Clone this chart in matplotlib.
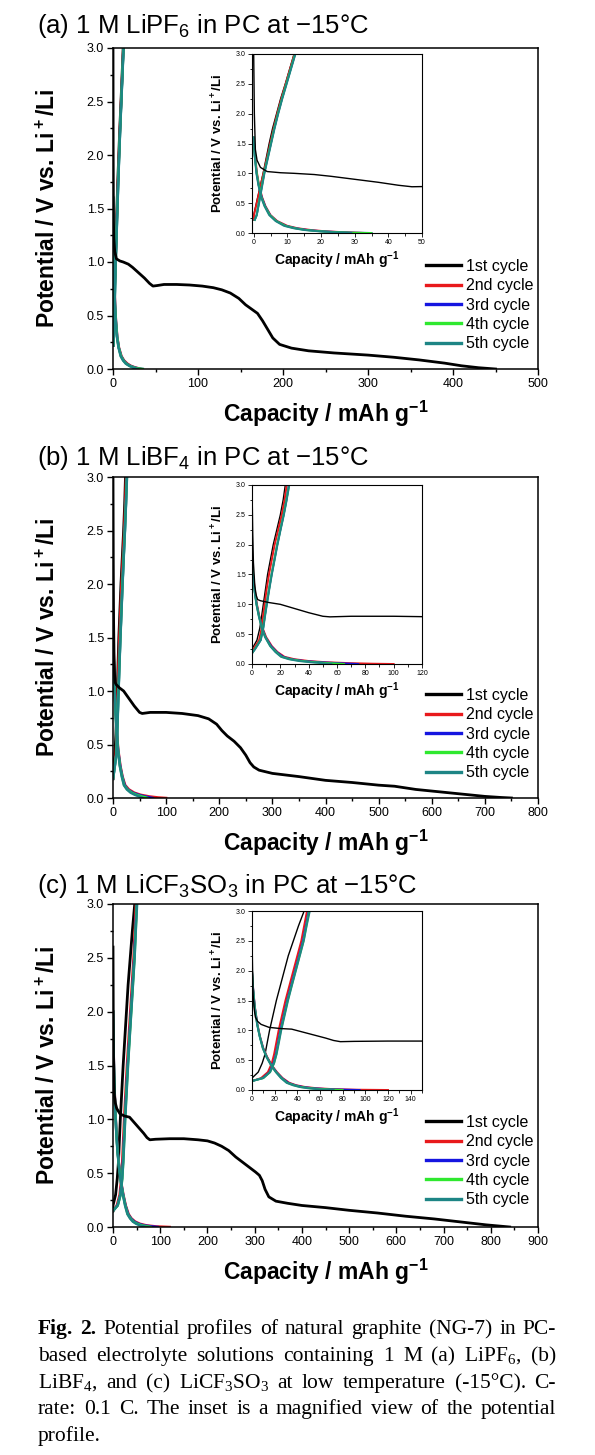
import numpy as np
import matplotlib
matplotlib.use("Agg")
import matplotlib.pyplot as plt
from matplotlib.ticker import MultipleLocator, FormatStrFormatter
from matplotlib.lines import Line2D

plt.rcParams["font.family"] = ["Liberation Sans", "DejaVu Sans"]

W, H = 595, 1455

cycle_labels = ["1st cycle", "2nd cycle", "3rd cycle", "4th cycle", "5th cycle"]
cycle_colors = ["#000000", "#e8191c", "#1515e0", "#2fe82f", "#1d8585"]

titles = [r"(a) 1 M LiPF$\mathregular{_6}$ in PC at −15°C",
          r"(b) 1 M LiBF$\mathregular{_4}$ in PC at −15°C",
          r"(c) 1 M LiCF$\mathregular{_3}$SO$\mathregular{_3}$ in PC at −15°C"]
main_xmax = [500, 800, 900]
inset_xmax = [50, 120, 150]
inset_xmajor = [10, 20, 20]

# ---- (a) LiPF6 ----
a_dis1_q = [0, 0.2, 0.5, 1, 2, 4, 8, 12, 18, 23, 30, 37, 43, 47, 52, 60, 75, 90, 105, 118,
            128, 138, 148, 156, 163, 170, 176, 182, 188, 196, 210, 230, 260, 300, 330, 360,
            390, 410, 430, 450]
a_dis1_v = [3.0, 2.0, 1.4, 1.22, 1.1, 1.03, 1.01, 1.0, 0.98, 0.95, 0.9, 0.85, 0.8, 0.775,
            0.78, 0.79, 0.79, 0.785, 0.775, 0.76, 0.74, 0.71, 0.66, 0.6, 0.56, 0.52, 0.45,
            0.37, 0.29, 0.23, 0.195, 0.17, 0.15, 0.13, 0.11, 0.085, 0.055, 0.03, 0.012, 0.0]
a_dis_v = [1.6, 1.3, 1.0, 0.8, 0.6, 0.45, 0.3, 0.2, 0.12, 0.08, 0.05, 0.03, 0.015, 0.005, 0.0]
a_dis_q = [[0, 0.4, 1.0, 1.6, 2.5, 3.5, 5.0, 7.0, 10.0, 13.0, 17, 21, 26, 31, 33],
           [0, 0.3, 0.9, 1.5, 2.4, 3.4, 4.9, 6.8, 9.6, 12.5, 16, 20, 25, 30, 35],
           [0, 0.3, 0.9, 1.5, 2.3, 3.3, 4.8, 6.7, 9.4, 12.2, 15.5, 19.5, 24, 29, 35],
           [0, 0.3, 0.8, 1.4, 2.2, 3.2, 4.6, 6.5, 9.0, 11.8, 15, 19, 23, 27, 29]]
a_chg_v = [0.22, 0.3, 0.5, 0.75, 1.0, 1.25, 1.5, 1.75, 2.0, 2.25, 2.5, 2.75, 3.0]
a_chg_q = [[0, 0, 0.8, 1.8, 2.8, 3.7, 4.6, 5.6, 6.8, 8.0, 9.4, 10.7, 12.0],
           [0, 0.1, 0.9, 1.9, 2.9, 3.9, 4.9, 5.9, 7.0, 8.2, 9.5, 10.8, 12.1],
           [0.3, 0.9, 1.5, 2.3, 3.1, 4.1, 5.1, 6.1, 7.2, 8.4, 9.7, 11.0, 12.3],
           [0.3, 0.9, 1.5, 2.3, 3.1, 4.1, 5.1, 6.1, 7.2, 8.4, 9.7, 11.0, 12.3],
           [0.3, 0.9, 1.6, 2.4, 3.2, 4.2, 5.2, 6.2, 7.3, 8.5, 9.8, 11.1, 12.4]]

# ---- (b) LiBF4 ----
b_dis1_q = [0, 0.5, 1, 2, 3, 4, 6, 8, 12, 20, 30, 40, 50, 55, 70, 100, 130, 160, 180, 195,
            205, 215, 228, 240, 250, 258, 265, 275, 300, 350, 400, 450, 500, 530, 570, 620,
            660, 700, 730, 750]
b_dis1_v = [3.0, 2.2, 1.7, 1.3, 1.15, 1.08, 1.06, 1.05, 1.03, 1.0, 0.93, 0.86, 0.8, 0.79,
            0.8, 0.8, 0.79, 0.77, 0.74, 0.69, 0.63, 0.58, 0.53, 0.47, 0.4, 0.33, 0.29, 0.26,
            0.23, 0.2, 0.165, 0.145, 0.12, 0.11, 0.08, 0.055, 0.035, 0.015, 0.005, 0.0]
b_dis_v = [1.75, 1.5, 1.2, 1.0, 0.8, 0.6, 0.45, 0.3, 0.2, 0.12, 0.08, 0.05, 0.03, 0.015, 0.005, 0.0]
b_dis_q = [[0, 0.8, 2.2, 3.5, 5.2, 7.5, 10, 14, 18, 23, 30, 40, 52, 68, 85, 100],
           [0, 0.7, 2.0, 3.3, 5.0, 7.2, 9.6, 13.5, 17.5, 22, 28, 37, 48, 60, 70, 75],
           [0, 0.7, 2.0, 3.2, 4.9, 7.0, 9.4, 13, 17, 21, 27, 35, 44, 54, 62, 65],
           [0, 0.6, 1.9, 3.1, 4.8, 6.9, 9.2, 12.8, 16.5, 20.5, 26, 33, 41, 49, 54, 56]]
b_chg_v = [0.18, 0.25, 0.4, 0.6, 0.8, 1.0, 1.25, 1.5, 1.75, 2.0, 2.25, 2.5, 2.75, 3.0]
b_chg_q = [[0, 0, 3.5, 5.5, 6.8, 8.0, 9.5, 11.0, 13, 15, 17.5, 20, 22, 23.5],
           [0, 1, 5, 6.8, 7.8, 8.9, 10.3, 12.0, 14, 16, 18.5, 21, 23, 24.5],
           [0, 2, 6, 7.8, 9, 10.3, 12, 13.8, 15.8, 17.8, 20, 22.3, 24.3, 26],
           [0, 2, 6, 7.8, 9, 10.3, 12, 13.8, 15.8, 17.8, 20, 22.3, 24.3, 26.2],
           [0, 2.2, 6.2, 8, 9.2, 10.5, 12.2, 14, 16, 18, 20.2, 22.5, 24.5, 26.3]]

# ---- (c) LiCF3SO3 ----
c_dis1_q = [0, 0.5, 1, 2, 3, 5, 8, 15, 25, 35, 45, 55, 65, 72, 78, 90, 120, 150, 180, 200,
            215, 230, 245, 260, 275, 290, 302, 310, 316, 322, 330, 345, 370, 400, 450, 500,
            560, 620, 680, 740, 790, 840]
c_dis1_v = [2.6, 2.0, 1.6, 1.35, 1.22, 1.15, 1.1, 1.05, 1.03, 1.02, 0.97, 0.92, 0.87, 0.83,
            0.81, 0.815, 0.82, 0.82, 0.81, 0.8, 0.78, 0.75, 0.71, 0.65, 0.6, 0.55, 0.51, 0.48,
            0.43, 0.35, 0.28, 0.24, 0.22, 0.2, 0.18, 0.155, 0.13, 0.1, 0.075, 0.045, 0.02, 0.0]
c_dis_v = [2.0, 1.7, 1.4, 1.1, 0.9, 0.7, 0.55, 0.4, 0.3, 0.2, 0.12, 0.08, 0.05, 0.03, 0.015, 0.005, 0.0]
c_dis_q = [[0, 1, 2.5, 4.8, 7, 10, 13.5, 18, 22, 27, 33, 39, 47, 57, 71, 92, 120],
           [0, 1, 2.4, 4.7, 6.9, 9.8, 13.2, 17.7, 21.6, 26.5, 32, 38, 45, 54, 66, 83, 95],
           [0, 0.9, 2.3, 4.6, 6.8, 9.6, 13, 17.4, 21.2, 26, 31, 37, 43, 51, 61, 73, 80],
           [0, 0.9, 2.3, 4.5, 6.7, 9.5, 12.8, 17.2, 21, 25.5, 30.5, 36, 42, 49, 57, 66, 72]]
c_chg_v = [0.15, 0.2, 0.3, 0.45, 0.6, 0.8, 1.0, 1.25, 1.5, 1.75, 2.0, 2.25, 2.5, 2.75, 3.0]
c_chg_q = [[0, 0, 5.5, 9, 11.5, 13.5, 15.5, 18.5, 21.5, 25, 28.5, 32, 36.5, 41, 46],
           [0, 8, 14, 17.5, 19.5, 21.5, 23.5, 26.5, 29.5, 33, 36.5, 40, 43.5, 46, 48.5],
           [0, 9.5, 15.5, 19, 21, 23, 25, 28, 31, 34.5, 38, 41.5, 45, 47.5, 50],
           [0, 10, 16, 19.5, 21.5, 23.5, 25.5, 28.5, 31.5, 35, 38.5, 42, 45.5, 48, 50.5],
           [0, 10, 16, 19.5, 21.7, 23.8, 25.8, 28.8, 31.8, 35.2, 38.7, 42.2, 45.7, 48.2, 51]]

panels = [
    (a_dis1_q, a_dis1_v, a_dis_q, a_dis_v, a_chg_q, a_chg_v),
    (b_dis1_q, b_dis1_v, b_dis_q, b_dis_v, b_chg_q, b_chg_v),
    (c_dis1_q, c_dis1_v, c_dis_q, c_dis_v, c_chg_q, c_chg_v),
]

caption_lines = [
    "Fig. 2. Potential profiles of natural graphite (NG-7) in PC-",
    r"based electrolyte solutions containing 1 M (a) LiPF$\mathregular{_6}$, (b)",
    r"LiBF$\mathregular{_4}$, and (c) LiCF$\mathregular{_3}$SO$\mathregular{_3}$ at low temperature (-15°C). C-",
    "rate: 0.1 C. The inset is a magnified view of the potential",
    "profile.",
]

# layout in pixels (left, top, right, bottom)
main_boxes = [(113, 48, 538, 369), (113, 477, 538, 798), (113, 904, 538, 1227)]
inset_boxes = [(252, 54, 422, 233), (252, 485, 422, 664), (252, 911, 422, 1090)]
title_base = [33, 465, 893]

ylab = r"Potential / V vs. Li$\mathregular{^+}$/Li"
xlab = r"Capacity / mAh g$\mathregular{^{-1}}$"


def rect(box):
    l, t, r, b = box
    return [l / W, 1 - b / H, (r - l) / W, (b - t) / H]


def draw_curves(ax, p, lw1, lw2):
    dis1_q, dis1_v, dis_q, dis_v, chg_q, chg_v = p
    ax.plot(chg_q[0], chg_v, color=cycle_colors[0], lw=lw1)
    for i in range(4):
        ax.plot(dis_q[i], dis_v, color=cycle_colors[i + 1], lw=lw2)
        ax.plot(chg_q[i + 1], chg_v, color=cycle_colors[i + 1], lw=lw2)
    ax.plot(dis1_q, dis1_v, color=cycle_colors[0], lw=lw1)


fig = plt.figure(figsize=(W / 100, H / 100), dpi=100)

for k in range(3):
    ax = fig.add_axes(rect(main_boxes[k]))
    draw_curves(ax, panels[k], 2.0, 1.8)
    ax.set_xlim(0, main_xmax[k])
    ax.set_ylim(0, 3.0)
    ax.xaxis.set_major_locator(MultipleLocator(100))
    ax.xaxis.set_minor_locator(MultipleLocator(50))
    ax.yaxis.set_major_locator(MultipleLocator(0.5))
    ax.yaxis.set_minor_locator(MultipleLocator(0.25))
    ax.yaxis.set_major_formatter(FormatStrFormatter("%.1f"))
    ax.tick_params(which="both", direction="out", top=False, right=False, width=1.0,
                   labelsize=9, pad=2)
    ax.tick_params(which="major", length=4.5)
    ax.tick_params(which="minor", length=2.5)
    for s in ax.spines.values():
        s.set_linewidth(1.1)

    l, t, r, b = main_boxes[k]
    fig.text(37 / W, 1 - title_base[k] / H, titles[k], fontsize=18.5, ha="left", va="baseline")
    fig.text(48 / W, 1 - (t + b) / 2 / H, ylab,
             fontsize=16.5, fontweight="bold", rotation=90, ha="center", va="center")
    fig.text((l + r) / 2 / W, 1 - (b + 45) / H, xlab,
             fontsize=16.5, fontweight="bold", ha="center", va="center")

    handles = [Line2D([], [], color=c, lw=2.4) for c in cycle_colors]
    ax.legend(handles, cycle_labels, loc="upper left",
              bbox_to_anchor=((426 - l) / (r - l), (b - (t + 211)) / (b - t)),
              frameon=False, fontsize=11.5, handlelength=2.2, handletextpad=0.3,
              labelspacing=0.27, borderpad=0, borderaxespad=0)

    # inset
    ins = fig.add_axes(rect(inset_boxes[k]))
    draw_curves(ins, panels[k], 1.0, 1.4)
    ins.set_xlim(-0.5 if k == 0 else 0, inset_xmax[k])
    ins.set_ylim(0, 3.0)
    ins.xaxis.set_major_locator(MultipleLocator(inset_xmajor[k]))
    ins.xaxis.set_minor_locator(MultipleLocator(inset_xmajor[k] / 2))
    ins.yaxis.set_major_locator(MultipleLocator(0.5))
    ins.yaxis.set_minor_locator(MultipleLocator(0.25))
    ins.yaxis.set_major_formatter(FormatStrFormatter("%.1f"))
    ins.tick_params(which="both", direction="out", top=False, right=False, width=0.6,
                    labelsize=5, pad=1.5)
    ins.tick_params(which="major", length=3)
    ins.tick_params(which="minor", length=1.8)
    for s in ins.spines.values():
        s.set_linewidth(0.8)
    il, it, ir, ib = inset_boxes[k]
    fig.text(218 / W, 1 - (it + ib) / 2 / H, ylab,
             fontsize=9.5, fontweight="bold", rotation=90, ha="center", va="center")
    fig.text((il + ir) / 2 / W, 1 - (ib + 27) / H, xlab,
             fontsize=10, fontweight="bold", ha="center", va="center")

# caption, justified
cap_left, cap_right = 38, 556
cap_base = [1334, 1361, 1388, 1414, 1441]
renderer = fig.canvas.get_renderer()
for li, line in enumerate(caption_lines):
    words = line.split(" ")
    objs = []
    for wi, w in enumerate(words):
        bold = li == 0 and wi < 2
        objs.append(fig.text(0, 1 - cap_base[li] / H, w, fontsize=15.5,
                             family=["Liberation Serif", "DejaVu Serif"],
                             fontweight="bold" if bold else "normal",
                             ha="left", va="baseline"))
    widths = [o.get_window_extent(renderer).width for o in objs]
    if li == len(caption_lines) - 1:
        gap = objs[0].get_window_extent(renderer).height * 0.25
    else:
        gap = (cap_right - cap_left - sum(widths)) / (len(words) - 1)
    x = cap_left
    for o, wdt in zip(objs, widths):
        o.set_x(x / W)
        x += wdt + gap

fig.savefig("out.png", dpi=100)
